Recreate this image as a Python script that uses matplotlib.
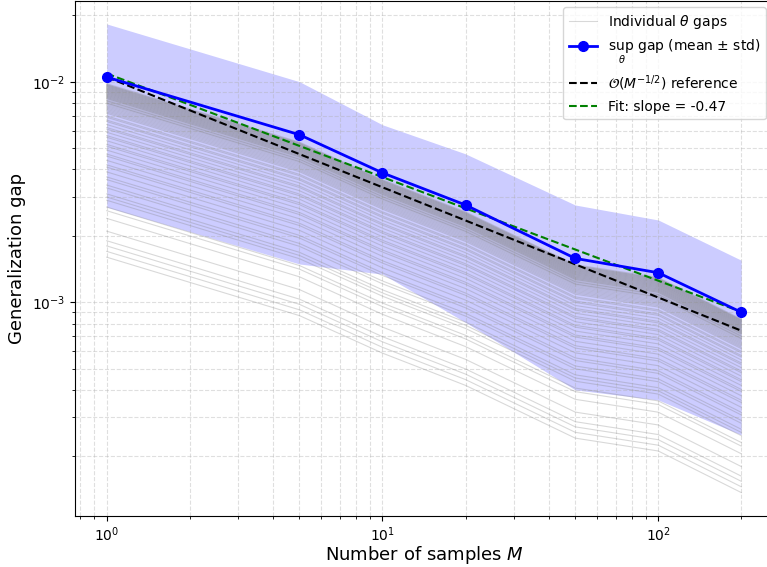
import matplotlib
matplotlib.use('Agg')
import matplotlib.pyplot as plt
import numpy as np

# sample sizes
M_values = [1, 5, 10, 20, 50, 100, 200]

# sup over theta of the gap, mean and std over trials
sup_mean = [0.0105, 0.00575, 0.00386, 0.00276, 0.00158, 0.00136, 0.00090]
sup_std = [0.0078, 0.00426, 0.00252, 0.00195, 0.00118, 0.00100, 0.00065]

# individual theta gaps: value at M=1 for each theta, and common decay relative to M=1
theta_gap_M1 = [
    0.0098, 0.0097, 0.0097, 0.0096, 0.0096, 0.0095, 0.0095, 0.0094, 0.0094, 0.0093,
    0.0093, 0.0092, 0.0092, 0.0091, 0.0091, 0.0090, 0.0090, 0.0089, 0.0089, 0.0088,
    0.0088, 0.0087, 0.0087, 0.0086, 0.0086, 0.0085, 0.0085, 0.0084, 0.0084, 0.0083,
    0.0082, 0.0082, 0.0081, 0.0080, 0.0080, 0.0079, 0.0078, 0.0077, 0.0076, 0.0075,
    0.0074, 0.0073, 0.0072, 0.0070, 0.0069, 0.0067, 0.0066, 0.0064, 0.0062, 0.0061,
    0.0059, 0.0057, 0.0056, 0.0054, 0.0052, 0.0051, 0.0049, 0.0047, 0.0046, 0.0044,
    0.0042, 0.0041, 0.0039, 0.0037, 0.0036, 0.0034, 0.0033, 0.0031, 0.0030, 0.0029,
    0.0027, 0.0026, 0.0024, 0.0021, 0.0019, 0.0018, 0.0017, 0.0016,
]
theta_decay = [1.0, 0.543, 0.367, 0.262, 0.151, 0.132, 0.0855]

# fitted power law
fit_slope = -0.47
fit_coef = 0.0109

M = np.array(M_values, dtype=float)
mean = np.array(sup_mean)
std = np.array(sup_std)

fig = plt.figure(figsize=(7.67, 5.67), dpi=100)
ax = fig.add_axes([75 / 767, 51 / 567, 698 / 767, 515.5 / 567])

ax.fill_between(M, mean - std, mean + std, color='blue', alpha=0.2, lw=0, zorder=1)

for i, g in enumerate(theta_gap_M1):
    ax.plot(M, g * np.array(theta_decay), color='gray', alpha=0.3, lw=0.8, zorder=2,
            label=r'Individual $\theta$ gaps' if i == 0 else None)

ax.plot(M, mean, 'b-o', lw=2, markersize=7, zorder=4, label=r'$\sup_\theta$ gap (mean $\pm$ std)')

ax.plot(M, mean[0] * M ** -0.5, 'k--', lw=1.5, zorder=3, label=r'$\mathcal{O}(M^{-1/2})$ reference')
ax.plot(M, fit_coef * M ** fit_slope, 'g--', lw=1.5, zorder=3, label=f'Fit: slope = {fit_slope:.2f}')

ax.set_xscale('log')
ax.set_yscale('log')
ax.set_xlabel('Number of samples $M$', fontsize=13, labelpad=0)
ax.set_ylabel('Generalization gap', fontsize=13)
ax.grid(True, which='both', ls='--', alpha=0.4)
ax.legend(loc='upper right')

plt.savefig('out.png', dpi=100)
